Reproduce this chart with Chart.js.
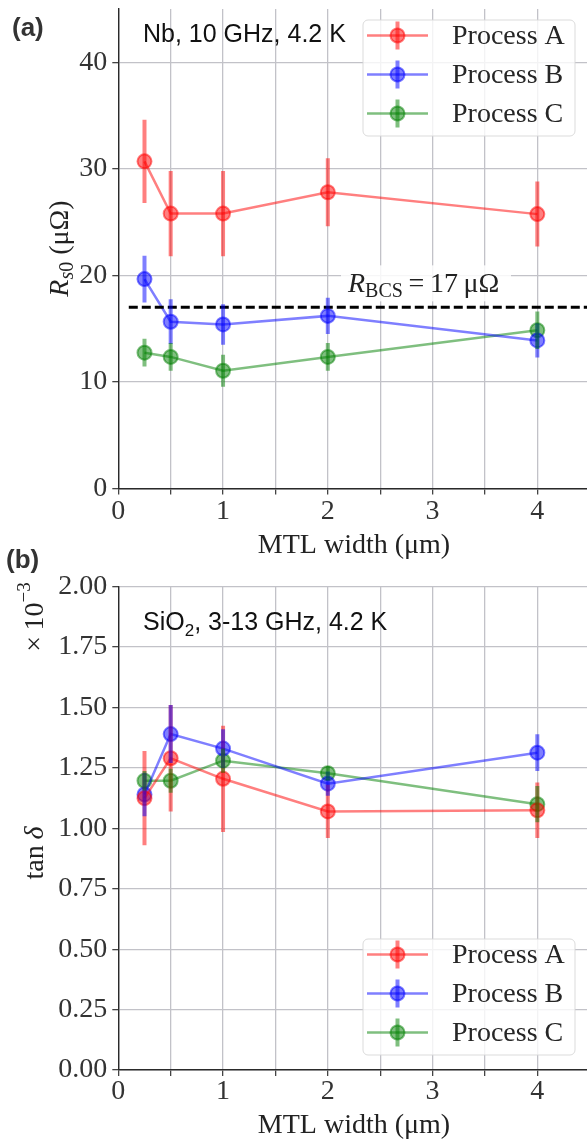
<!DOCTYPE html>
<html>
<head>
<meta charset="utf-8">
<script src="https://cdn.jsdelivr.net/npm/chart.js@4.4.0/dist/chart.umd.min.js"></script>
<style>
html, body { margin: 0; padding: 0; background: #fff; overflow: hidden; width: 587px; height: 1144px; }
.panel { position: absolute; left: 0; }
#pa { top: 0; }
#pb { top: 545px; }
</style>
</head>
<body>
<div class="panel" id="pb"><canvas id="tan_chart" width="600" height="599"></canvas></div>
<div class="panel" id="pa"><canvas id="rs_chart" width="600" height="560"></canvas></div>
<script>
// MTL widths (um)
const widths = [0.25, 0.5, 1, 2, 4];
const processNames = ['Process A', 'Process B', 'Process C'];

// (a) residual surface resistance, uOhm
const rsA = [30.7, 25.8, 25.8, 27.8, 25.75];
const rsAErr = [3.9, 4.0, 4.0, 3.2, 3.05];
const rsB = [19.65, 15.65, 15.4, 16.2, 13.9];
const rsBErr = [2.2, 2.1, 1.9, 1.7, 1.6];
const rsC = [12.75, 12.35, 11.05, 12.35, 14.85];
const rsCErr = [1.3, 1.3, 1.5, 1.3, 1.75];
const rBCS = 17;

// (b) loss tangent, x1e-3
const tanA = [1.125, 1.29, 1.205, 1.07, 1.075];
const tanAErr = [0.195, 0.22, 0.22, 0.11, 0.115];
const tanB = [1.14, 1.39, 1.33, 1.185, 1.313];
const tanBErr = [0.09, 0.12, 0.08, 0.05, 0.076];
const tanC = [1.197, 1.197, 1.28, 1.228, 1.10];
const tanCErr = [0.04, 0.05, 0.05, 0.03, 0.075];

const xTicks = [0, 1, 2, 3, 4];

const colors = ['rgba(255,0,0,0.5)', 'rgba(0,0,255,0.5)', 'rgba(0,128,0,0.5)'];
const serif = 'Liberation Serif';
const gridColor = '#c2c2c8';
const axisColor = '#2a2a2a';

function series(vals, errs, idx) {
    return {
        label: processNames[idx],
        data: widths.map((w, i) => ({x: w, y: vals[i]})),
        errors: errs,
        borderColor: colors[idx],
        backgroundColor: colors[idx],
        borderWidth: 2.5,
        pointRadius: 7,
        pointBorderWidth: 2,
        pointBackgroundColor: colors[idx],
        pointBorderColor: colors[idx],
        tension: 0
    };
}

// error bars through the chart scales
const errorBars = {
    id: 'errorBars',
    afterDatasetsDraw(chart) {
        const {ctx, chartArea, scales} = chart;
        ctx.save();
        ctx.beginPath();
        ctx.rect(chartArea.left, chartArea.top, chartArea.width, chartArea.height);
        ctx.clip();
        chart.data.datasets.forEach(ds => {
            if (!ds.errors) return;
            ctx.strokeStyle = ds.borderColor;
            ctx.lineWidth = 4;
            ds.data.forEach((p, i) => {
                const px = scales.x.getPixelForValue(p.x);
                ctx.beginPath();
                ctx.moveTo(px, scales.y.getPixelForValue(p.y - ds.errors[i]));
                ctx.lineTo(px, scales.y.getPixelForValue(p.y + ds.errors[i]));
                ctx.stroke();
            });
        });
        ctx.restore();
    }
};

function drawRuns(ctx, runs, x, y, align) {
    let total = 0;
    runs.forEach(r => { ctx.font = r.font; r.w = ctx.measureText(r.text).width; total += r.w; });
    let cx = align === 'center' ? x - total / 2 : x;
    runs.forEach(r => {
        ctx.font = r.font;
        ctx.fillText(r.text, cx, y + (r.dy || 0));
        cx += r.w;
    });
}

function drawLegend(chart, bx, by) {
    const ctx = chart.ctx;
    const w = 212, h = 116;
    ctx.save();
    ctx.beginPath();
    ctx.roundRect(bx, by, w, h, 5);
    ctx.fillStyle = 'rgba(255,255,255,0.8)';
    ctx.fill();
    ctx.strokeStyle = 'rgba(215,215,215,0.9)';
    ctx.lineWidth = 1;
    ctx.stroke();
    chart.data.datasets.filter(d => d.errors).forEach((ds, i) => {
        const cy = by + 15.5 + i * 39;
        const mx = bx + 34.5;
        ctx.strokeStyle = ds.borderColor;
        ctx.lineWidth = 2.5;
        ctx.beginPath(); ctx.moveTo(bx + 4, cy); ctx.lineTo(bx + 65, cy); ctx.stroke();
        ctx.lineWidth = 4;
        ctx.beginPath(); ctx.moveTo(mx, cy - 14); ctx.lineTo(mx, cy + 14); ctx.stroke();
        ctx.beginPath(); ctx.arc(mx, cy, 7, 0, Math.PI * 2);
        ctx.fillStyle = ds.backgroundColor; ctx.fill();
        ctx.lineWidth = 2; ctx.stroke();
        ctx.fillStyle = '#262626';
        ctx.font = '28px ' + serif;
        ctx.textBaseline = 'middle';
        ctx.fillText(ds.label, bx + 89, cy + 1);
    });
    ctx.restore();
}

function axes(yMin, yMax, yStep, yFmt, xHeight, tickPad, titlePad) {
    return {
        x: {
            type: 'linear', min: 0, max: 4.5,
            afterBuildTicks: s => { s.ticks = [0, 0.5, 1, 1.5, 2, 2.5, 3, 3.5, 4, 4.5].map(v => ({value: v})); },
            ticks: {
                autoSkip: false, maxRotation: 0, padding: tickPad, color: '#333',
                font: {family: serif, size: 28, lineHeight: 1},
                callback: v => xTicks.includes(v) ? String(v) : ''
            },
            grid: {color: gridColor, lineWidth: 1.3, tickLength: 6, tickColor: '#444'},
            border: {display: true, color: axisColor, width: 1.4},
            title: {display: true, text: 'MTL width (μm)', color: '#222',
                font: {family: serif, size: 28, lineHeight: 1}, padding: {top: 0, bottom: titlePad}},
            afterFit: s => { s.height = xHeight; s.paddingLeft = 0; s.paddingRight = 0; }
        },
        y: {
            min: yMin, max: yMax,
            afterBuildTicks: s => {
                const t = [];
                for (let v = yMin; v <= yMax + 1e-9; v += yStep) t.push({value: +v.toFixed(3)});
                s.ticks = t;
            },
            ticks: {padding: 5, color: '#333', font: {family: serif, size: 28, lineHeight: 1}, callback: yFmt},
            grid: {color: gridColor, lineWidth: 1.3, tickLength: 6, tickColor: '#444'},
            border: {display: true, color: axisColor, width: 1.4},
            afterFit: s => { s.width = 118.3; s.paddingTop = 0; s.paddingBottom = 0; }
        }
    };
}

const rsLabels = {
    id: 'rsLabels',
    afterDatasetsDraw(chart) {
        const ctx = chart.ctx;
        const {y} = chart.scales;
        ctx.save();
        // R_BCS label with light box
        const ly = y.getPixelForValue(rBCS);
        ctx.fillStyle = 'rgba(255,255,255,0.85)';
        ctx.fillRect(341, ly - 42, 170, 36);
        ctx.fillStyle = '#222';
        ctx.textBaseline = 'alphabetic';
        drawRuns(ctx, [
            {text: 'R', font: 'italic 28px ' + serif},
            {text: 'BCS', font: '20px ' + serif, dy: 5},
            {text: '\u2009=\u200917\u2009μΩ', font: '28px ' + serif}
        ], 348, ly - 15.5, 'left');
        ctx.restore();
    },
    afterDraw(chart) {
        const ctx = chart.ctx;
        ctx.save();
        ctx.fillStyle = '#333';
        ctx.font = 'bold 26px "Liberation Sans"';
        ctx.textBaseline = 'alphabetic';
        ctx.fillText('(a)', 12, 36);
        ctx.fillStyle = '#111';
        ctx.font = '25px "Liberation Sans"';
        ctx.fillText('Nb, 10 GHz, 4.2 K', 143, 42);
        // y title
        ctx.fillStyle = '#222';
        ctx.translate(68, 248.5);
        ctx.rotate(-Math.PI / 2);
        drawRuns(ctx, [
            {text: 'R', font: 'italic 28px ' + serif},
            {text: 's', font: 'italic 20px ' + serif, dy: 5},
            {text: '0', font: '20px ' + serif, dy: 5},
            {text: ' (μΩ)', font: '28px ' + serif}
        ], 0, 0, 'center');
        ctx.restore();
        drawLegend(chart, 363, 20);
    }
};

const tanLabels = {
    id: 'tanLabels',
    afterDraw(chart) {
        const ctx = chart.ctx;
        ctx.save();
        ctx.fillStyle = '#333';
        ctx.font = 'bold 26px "Liberation Sans"';
        ctx.textBaseline = 'alphabetic';
        ctx.fillText('(b)', 6, 23);
        ctx.fillStyle = '#111';
        drawRuns(ctx, [
            {text: 'SiO', font: '25px "Liberation Sans"'},
            {text: '2', font: '17px "Liberation Sans"', dy: 6},
            {text: ', 3-13 GHz, 4.2 K', font: '25px "Liberation Sans"'}
        ], 143, 85, 'left');
        ctx.fillStyle = '#222';
        ctx.save();
        ctx.translate(43, 308);
        ctx.rotate(-Math.PI / 2);
        drawRuns(ctx, [
            {text: 'tan\u2009', font: '28px ' + serif},
            {text: 'δ', font: 'italic 28px ' + serif}
        ], 0, 0, 'center');
        ctx.restore();
        ctx.translate(43, 72);
        ctx.rotate(-Math.PI / 2);
        drawRuns(ctx, [
            {text: '×\u200910', font: '28px ' + serif},
            {text: '−3', font: '19px ' + serif, dy: -13}
        ], 0, 0, 'center');
        ctx.restore();
        drawLegend(chart, 363, 394);
    }
};

const rsChart = new Chart(document.getElementById('rs_chart'), {
    type: 'line',
    data: {
        datasets: [
            {
                label: 'R_BCS',
                data: [{x: 0.1, y: rBCS}, {x: 4.5, y: rBCS}],
                borderColor: '#000', borderWidth: 3, borderDash: [9, 4], pointRadius: 0
            },
            series(rsA, rsAErr, 0),
            series(rsB, rsBErr, 1),
            series(rsC, rsCErr, 2)
        ]
    },
    options: {
        responsive: false,
        animation: false,
        layout: {padding: {left: 0, top: 5, right: 10.3, bottom: 0}},
        plugins: {legend: {display: false}, tooltip: {enabled: false}},
        scales: axes(0, 45, 10, v => (v % 10 === 0 ? String(v) : ''), 71.5, 3, 0)
    },
    plugins: [errorBars, rsLabels]
});

const tanChart = new Chart(document.getElementById('tan_chart'), {
    type: 'line',
    data: {
        datasets: [
            series(tanA, tanAErr, 0),
            series(tanB, tanBErr, 1),
            series(tanC, tanCErr, 2)
        ]
    },
    options: {
        responsive: false,
        animation: false,
        layout: {padding: {left: 0, top: 41.7, right: 10.3, bottom: 0}},
        plugins: {legend: {display: false}, tooltip: {enabled: false}},
        scales: axes(0, 2, 0.25, v => v.toFixed(2), 74, 2, 4)
    },
    plugins: [errorBars, tanLabels]
});
</script>
</body>
</html>
